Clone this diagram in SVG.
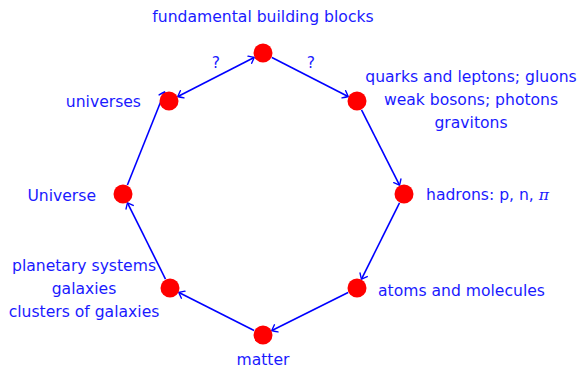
<svg xmlns="http://www.w3.org/2000/svg" width="582" height="368" viewBox="0 0 582 368">
<style>
text{font-family:"DejaVu Sans",sans-serif;font-size:15.6px;fill:#1a1aff}
.n circle{fill:#ff0000}
.e line{stroke:#0000ff;stroke-width:1.6;fill:none}
.mid{text-anchor:middle}
.end{text-anchor:end}
</style>
<defs>
<marker id="ah" viewBox="-6 -5 8 10" markerWidth="8" markerHeight="10" refX="0" refY="0" orient="auto-start-reverse" markerUnits="userSpaceOnUse">
<path d="M-4.8,-4 Q-1.3,-1.3 0,0 Q-1.3,1.3 -4.8,4" fill="none" stroke="#0000ff" stroke-width="1.4" stroke-linecap="round"/>
</marker>
</defs>
<rect width="582" height="368" fill="#ffffff"/>
<g id="connectors" class="e">
<line x1="271.9" y1="57.5" x2="348.1" y2="96.5" marker-end="url(#ah)"/>
<line x1="361.5" y1="109.9" x2="399.5" y2="185.1" marker-end="url(#ah)"/>
<line x1="399.5" y1="202.9" x2="361.5" y2="279.1" marker-end="url(#ah)"/>
<line x1="348.1" y1="292.5" x2="271.9" y2="330.5" marker-end="url(#ah)"/>
<line x1="254.1" y1="330.5" x2="178.9" y2="292.5" marker-end="url(#ah)"/>
<line x1="165.5" y1="279.1" x2="127.5" y2="202.9" marker-end="url(#ah)"/>
<line x1="127.4" y1="185.0" x2="164.6" y2="92.0" marker-end="url(#ah)"/>
<line x1="177.9" y1="96.5" x2="254.1" y2="57.5" marker-start="url(#ah)" marker-end="url(#ah)"/>
<text x="216" y="68" class="mid">?</text>
<text x="311" y="68" class="mid">?</text>
</g>
<g id="node-fundamental" class="n">
<circle cx="263" cy="53" r="9.5"/>
<text x="263" y="22" class="mid">fundamental building blocks</text>
</g>
<g id="node-quarks" class="n">
<circle cx="357" cy="101" r="9.5"/>
<text x="471" y="82" class="mid">quarks and leptons; gluons</text>
<text x="471" y="105" class="mid">weak bosons; photons</text>
<text x="471" y="128" class="mid">gravitons</text>
</g>
<g id="node-hadrons" class="n">
<circle cx="404" cy="194" r="9.5"/>
<text x="426" y="200">hadrons: p, n, <tspan font-family="DejaVu Serif" font-style="italic">π</tspan></text>
</g>
<g id="node-atoms" class="n">
<circle cx="357" cy="288" r="9.5"/>
<text x="378" y="296">atoms and molecules</text>
</g>
<g id="node-matter" class="n">
<circle cx="263" cy="335" r="9.5"/>
<text x="263" y="365" class="mid">matter</text>
</g>
<g id="node-planetary" class="n">
<circle cx="170" cy="288" r="9.5"/>
<text x="84" y="271" class="mid">planetary systems</text>
<text x="84" y="294" class="mid">galaxies</text>
<text x="84" y="317" class="mid">clusters of galaxies</text>
</g>
<g id="node-Universe" class="n">
<circle cx="123" cy="194" r="9.5"/>
<text x="96" y="201" class="end">Universe</text>
</g>
<g id="node-universes" class="n">
<circle cx="169" cy="101" r="9.5"/>
<text x="141" y="107" class="end">universes</text>
</g>
</svg>
